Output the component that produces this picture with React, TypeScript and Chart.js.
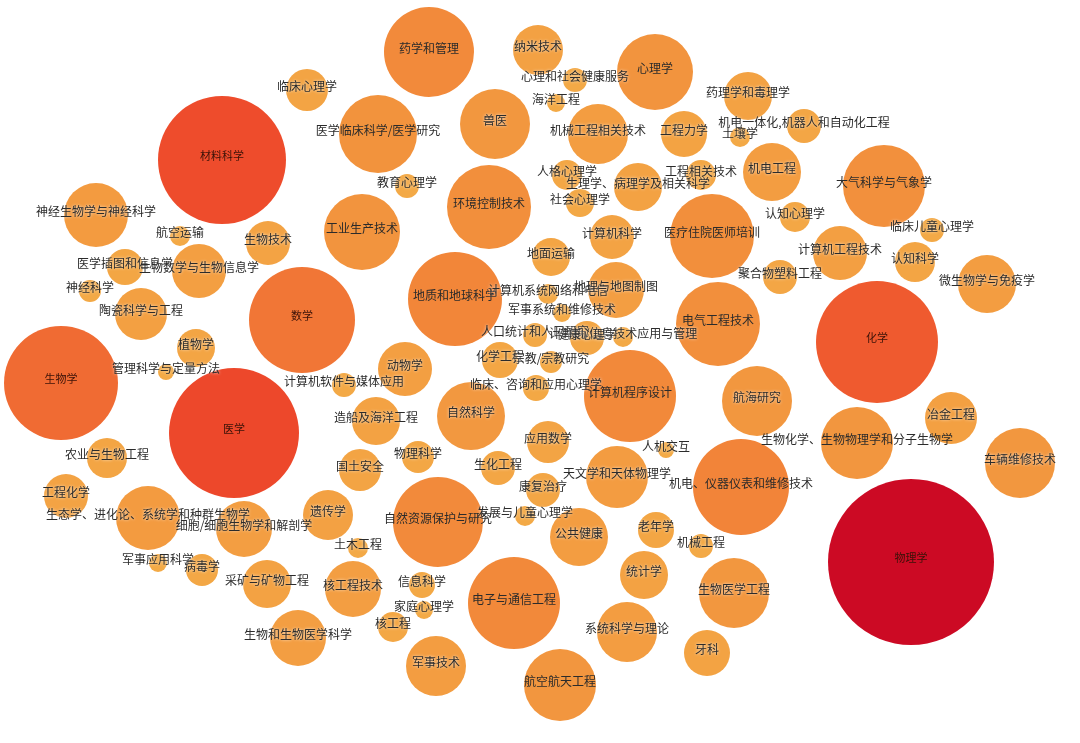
import React, { useEffect, useRef } from 'react';
import { Chart, registerables } from 'chart.js';

Chart.register(...registerables);

const names: string[] = [
  '材料科学', '神经生物学与神经科学', '航空运输', '生物技术', '药学和管理', '纳米技术', '临床心理学', '医学临床科学/医学研究', '兽医', '教育心理学',
  '环境控制技术', '工业生产技术', '心理学', '心理和社会健康服务', '海洋工程', '机械工程相关技术', '工程力学', '药理学和毒理学', '机电一体化,机器人和自动化工程', '土壤学',
  '机电工程', '人格心理学', '生理学、病理学及相关科学', '工程相关技术', '社会心理学', '计算机科学', '医疗住院医师培训', '认知心理学', '地面运输', '大气科学与气象学',
  '临床儿童心理学', '计算机工程技术', '认知科学', '微生物学与免疫学', '化学', '冶金工程', '生物化学、生物物理学和分子生物学', '车辆维修技术', '物理学', '医学插图和信息学',
  '生物数学与生物信息学', '神经科学', '陶瓷科学与工程', '植物学', '管理科学与定量方法', '生物学', '医学', '农业与生物工程', '工程化学', '数学',
  '地质和地球科学', '动物学', '计算机软件与媒体应用', '造船及海洋工程', '自然科学', '物理科学', '国土安全', '生化工程', '化学工程', '宗教/宗教研究',
  '计算机系统网络和电信', '地理与地图制图', '军事系统和维修技术', '人口统计和人口研究', '计算机/信息技术应用与管理', '健康心理学', '电气工程技术', '聚合物塑料工程', '临床、咨询和应用心理学', '计算机程序设计',
  '航海研究', '应用数学', '人机交互', '天文学和天体物理学', '机电、仪器仪表和维修技术', '康复治疗', '发展与儿童心理学', '公共健康', '老年学', '机械工程',
  '统计学', '生物医学工程', '系统科学与理论', '牙科', '航空航天工程', '电子与通信工程', '生态学、进化论、系统学和种群生物学', '细胞/细胞生物学和解剖学', '军事应用科学', '病毒学',
  '采矿与矿物工程', '生物和生物医学科学', '遗传学', '自然资源保护与研究', '土木工程', '核工程技术', '信息科学', '家庭心理学', '核工程', '军事技术',
];

const xs: number[] = [
  222, 96, 180, 268, 429, 538, 307, 378, 495, 407,
  489, 362, 655, 575, 556, 598, 684, 748, 804, 740,
  772, 567, 638, 701, 580, 612, 712, 795, 551, 884,
  932, 840, 915, 987, 877, 951, 857, 1020, 911, 125,
  199, 90, 141, 196, 166, 61, 234, 107, 66, 302,
  455, 405, 344, 376, 471, 418, 360, 498, 500, 551,
  548, 616, 562, 535, 623, 587, 718, 780, 536, 630,
  757, 548, 666, 617, 741, 543, 525, 579, 656, 701,
  644, 734, 627, 707, 560, 514, 148, 244, 158, 202,
  267, 298, 328, 438, 358, 353, 422, 424, 393, 436,
];

const ys: number[] = [
  160, 215, 236, 243, 52, 50, 90, 134, 124, 186,
  207, 232, 72, 80, 103, 134, 134, 96, 126, 137,
  172, 175, 187, 175, 203, 237, 236, 217, 257, 186,
  230, 253, 262, 284, 342, 418, 443, 463, 562, 267,
  271, 291, 314, 348, 372, 383, 433, 458, 496, 320,
  299, 369, 385, 421, 416, 457, 470, 468, 360, 362,
  294, 290, 313, 335, 337, 338, 324, 277, 388, 396,
  401, 442, 450, 477, 487, 490, 516, 537, 530, 546,
  575, 593, 632, 653, 685, 603, 518, 529, 563, 570,
  584, 638, 515, 522, 548, 589, 585, 610, 627, 666,
];

const sizes: number[] = [
  64, 32, 10, 22, 45, 25, 21, 39, 35, 12,
  42, 38, 38, 12, 9, 30, 23, 24, 17, 10,
  29, 15, 24, 15, 14, 22, 42, 15, 19, 41,
  12, 27, 20, 29, 61, 26, 36, 35, 83, 18,
  27, 11, 26, 19, 8, 57, 65, 20, 22, 53,
  47, 27, 12, 24, 34, 16, 21, 17, 18, 11,
  10, 28, 9, 12, 10, 17, 42, 17, 13, 46,
  35, 21, 8, 31, 48, 17, 10, 29, 18, 12,
  24, 35, 30, 23, 36, 46, 32, 28, 9, 16,
  24, 28, 25, 45, 10, 28, 13, 9, 15, 30,
];

const stops: [number, number[]][] = [
  [0, [243, 170, 70]],
  [0.3, [242, 137, 58]],
  [0.47, [240, 106, 51]],
  [0.6, [238, 74, 43]],
  [1, [204, 10, 36]],
];

function colorFor(r: number): string {
  const vmin = 64;
  const vmax = 83 * 83;
  const t = Math.max(0, Math.min(1, (r * r - vmin) / (vmax - vmin)));
  for (let i = 1; i < stops.length; i++) {
    if (t <= stops[i][0]) {
      const [t0, c0] = stops[i - 1];
      const [t1, c1] = stops[i];
      const f = (t - t0) / (t1 - t0);
      const c = c0.map((v, k) => Math.round(v + (c1[k] - v) * f));
      return `rgb(${c[0]},${c[1]},${c[2]})`;
    }
  }
  return 'rgb(204,10,36)';
}

const labelPlugin = {
  id: 'bubbleLabels',
  afterDatasetsDraw(chart: any) {
    const ctx = chart.ctx;
    const meta = chart.getDatasetMeta(0);
    ctx.save();
    ctx.textAlign = 'center';
    ctx.textBaseline = 'middle';
    meta.data.forEach((el: any, i: number) => {
      const r = sizes[i];
      ctx.font = `${r >= 50 ? 11 : 12}px "Noto Sans CJK SC", "Noto Sans", sans-serif`;
      if (r < 36) {
        ctx.shadowColor = 'rgba(255,255,255,0.85)';
        ctx.shadowBlur = 3;
      } else {
        ctx.shadowColor = 'rgba(0,0,0,0)';
        ctx.shadowBlur = 0;
      }
      ctx.fillStyle = r >= 50 ? '#3a1208' : '#2b2b2b';
      ctx.fillText(names[i], el.x, el.y - 4);
    });
    ctx.restore();
  },
};

export default function App() {
  const ref = useRef<HTMLCanvasElement | null>(null);
  useEffect(() => {
    if (!ref.current) return;
    const chart = new Chart(ref.current, {
      type: 'bubble',
      data: {
        datasets: [
          {
            data: names.map((_, i) => ({ x: xs[i], y: ys[i], r: sizes[i] })),
            backgroundColor: sizes.map(colorFor),
            borderWidth: 0,
            hoverBorderWidth: 0,
            clip: false as any,
          },
        ],
      },
      options: {
        responsive: false,
        animation: false,
        devicePixelRatio: 1,
        layout: { padding: 0, autoPadding: false },
        scales: {
          x: { type: 'linear', min: 0, max: 1080, display: false },
          y: { type: 'linear', min: 0, max: 743, reverse: true, display: false },
        },
        plugins: { legend: { display: false }, tooltip: { enabled: false } },
        events: [],
      },
      plugins: [labelPlugin],
    });
    return () => chart.destroy();
  }, []);
  return (
    <div style={{ position: 'absolute', left: 0, top: 0, width: 1080, height: 743, background: '#fff' }}>
      <canvas ref={ref} width={1080} height={743} />
    </div>
  );
}
